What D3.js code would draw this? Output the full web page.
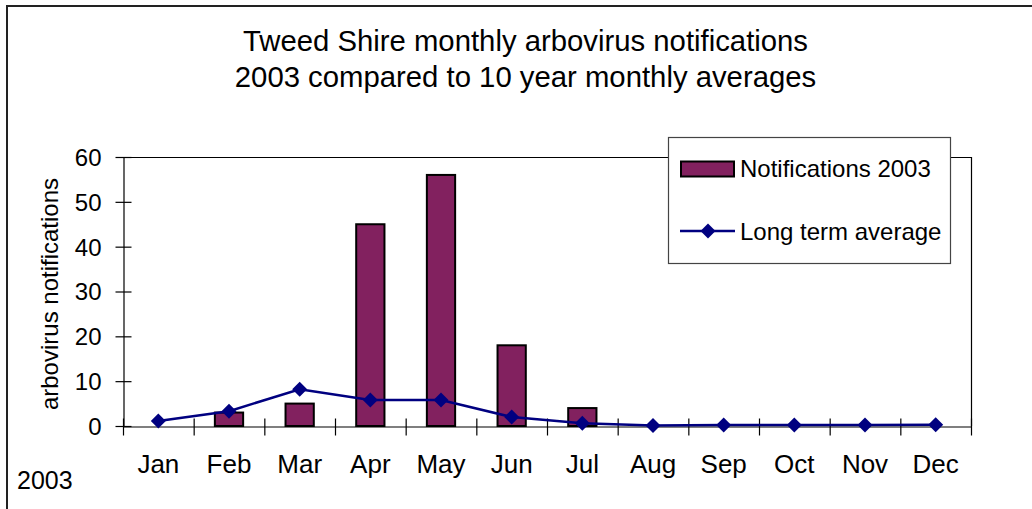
<!DOCTYPE html>
<html>
<head>
<meta charset="utf-8">
<script src="https://cdn.jsdelivr.net/npm/d3@7"></script>
<style>
html,body{margin:0;padding:0;background:#fff;}
svg{display:block;font-family:"Liberation Sans",Arial,sans-serif;}
</style>
</head>
<body>
<svg id="chart" width="1032" height="509"></svg>
<script>
const months = ["Jan","Feb","Mar","Apr","May","Jun","Jul","Aug","Sep","Oct","Nov","Dec"];
const notifications2003 = [0, 3, 5, 45, 56, 18, 4, 0, 0, 0, 0, 0];
const longTermAverage = [1.1, 3.3, 8.2, 5.8, 5.8, 2.0, 0.6, 0.1, 0.2, 0.2, 0.2, 0.3];
const yTicks = [0, 10, 20, 30, 40, 50, 60];
const titleLines = ["Tweed Shire monthly arbovirus notifications", "2003 compared to 10 year monthly averages"];
const yLabel = "arbovirus notifications";
const cornerLabel = "2003";
const legendLabels = ["Notifications 2003", "Long term average"];

const svg = d3.select("#chart");
const barColor = "#82215F", lineColor = "#000080";
const L = 123, R = 971, T = 157, B = 426;

// outer frame
svg.append("rect").attr("x", 7).attr("y", 6).attr("width", 1100).attr("height", 600)
  .attr("fill", "none").attr("stroke", "#222").attr("stroke-width", 2);

// title
svg.append("g").selectAll("text").data(titleLines).join("text")
  .attr("x", 525.5).attr("y", (d, i) => 50.5 + i * 36.6)
  .attr("text-anchor", "middle").attr("font-size", 29.3).attr("fill", "#000").text(d => d);

const x = d3.scaleBand().domain(months).range([L, R]).paddingInner(0).paddingOuter(0);
const y = d3.scaleLinear().domain([0, 60]).range([B, T]);

// plot frame top/right
svg.append("line").attr("x1", L).attr("x2", R).attr("y1", T + 0.5).attr("y2", T + 0.5).attr("stroke", "#000").attr("stroke-width", 1.2);
svg.append("line").attr("x1", R + 0.5).attr("x2", R + 0.5).attr("y1", T).attr("y2", B).attr("stroke", "#000").attr("stroke-width", 1.2);

// bars
const bw = x.bandwidth() * 0.4;
svg.append("g").selectAll("rect").data(months.map((m, i) => ({m, v: notifications2003[i]})).filter(d => d.v > 0)).join("rect")
  .attr("x", d => x(d.m) + x.bandwidth() / 2 - bw / 2)
  .attr("y", d => y(d.v))
  .attr("width", bw)
  .attr("height", d => y(0) - y(d.v))
  .attr("fill", barColor).attr("stroke", "#000").attr("stroke-width", 2);

// y axis
const yAxis = d3.axisLeft(y).tickValues(yTicks).tickSize(0).tickPadding(0);
const gy = svg.append("g").attr("transform", `translate(${L + 0.5},0)`).call(yAxis);
gy.select(".domain").attr("stroke", "#000").attr("stroke-width", 1.2);
gy.selectAll(".tick text").attr("x", -22).attr("dy", "0.35em").attr("font-size", 24).attr("fill", "#000")
  .attr("font-family", '"Liberation Sans",Arial,sans-serif');
gy.selectAll(".tick").append("line").attr("x1", -8).attr("x2", 8).attr("stroke", "#000").attr("stroke-width", 1.2);

// x axis
const xAxis = d3.axisBottom(x).tickSize(0).tickPadding(0);
const gx = svg.append("g").attr("transform", `translate(0,${B + 0.5})`).call(xAxis);
gx.select(".domain").attr("stroke", "#000").attr("stroke-width", 1.2);
gx.selectAll(".tick text").attr("y", 46).attr("dy", 0).attr("font-size", 26).attr("fill", "#000")
  .attr("font-family", '"Liberation Sans",Arial,sans-serif');
const bounds = months.map(m => x(m)).concat([R]);
gx.append("g").selectAll("line").data(bounds).join("line")
  .attr("x1", d => d + 0.5).attr("x2", d => d + 0.5).attr("y1", -8).attr("y2", 9)
  .attr("stroke", "#000").attr("stroke-width", 1.2);

// line series
const cx = m => x(m) + x.bandwidth() / 2;
const line = d3.line().x((d, i) => cx(months[i])).y(d => y(d));
svg.append("path").datum(longTermAverage).attr("d", line)
  .attr("fill", "none").attr("stroke", lineColor).attr("stroke-width", 2.5);
const diamond = "M0,-7.5L7.5,0L0,7.5L-7.5,0Z";
svg.append("g").selectAll("path").data(longTermAverage).join("path")
  .attr("d", diamond)
  .attr("transform", (d, i) => `translate(${cx(months[i])},${y(d)})`)
  .attr("fill", lineColor);

// y label
svg.append("text").attr("transform", "translate(58,294) rotate(-90)")
  .attr("text-anchor", "middle").attr("font-size", 24).attr("fill", "#000").text(yLabel);

// corner label
svg.append("text").attr("x", 17).attr("y", 489).attr("font-size", 25).attr("fill", "#000").text(cornerLabel);

// legend
const lg = svg.append("g");
lg.append("rect").attr("x", 668.5).attr("y", 137.5).attr("width", 282).attr("height", 126)
  .attr("fill", "#fff").attr("stroke", "#444").attr("stroke-width", 1.2);
lg.append("rect").attr("x", 681).attr("y", 161.5).attr("width", 53).attr("height", 15)
  .attr("fill", barColor).attr("stroke", "#000").attr("stroke-width", 2);
lg.append("line").attr("x1", 680).attr("x2", 735).attr("y1", 231).attr("y2", 231)
  .attr("stroke", lineColor).attr("stroke-width", 2.5);
lg.append("path").attr("d", diamond).attr("transform", "translate(708,231)").attr("fill", lineColor);
lg.selectAll("text.lt").data(legendLabels).join("text").attr("class", "lt")
  .attr("x", 740).attr("y", (d, i) => 177 + i * 63)
  .attr("font-size", 24).attr("fill", "#000").text(d => d);
</script>
</body>
</html>
